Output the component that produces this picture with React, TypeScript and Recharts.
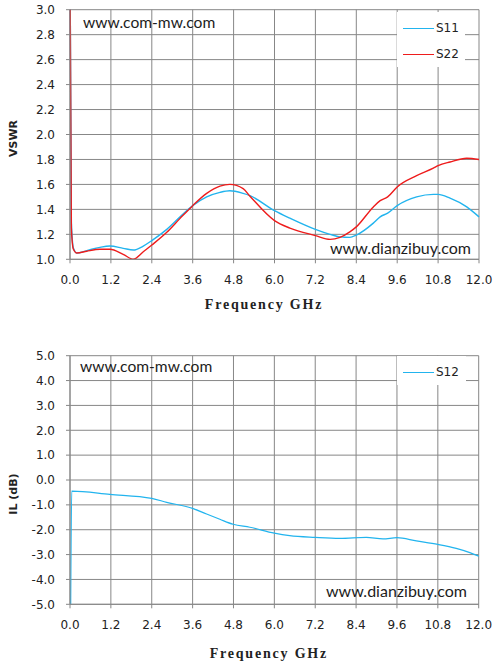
import { LineChart, Line, XAxis, YAxis, CartesianGrid, Legend, Label } from 'recharts';

// Frequency sweep (GHz)
const freqGHz = [
  0.0, 0.04, 0.1, 0.2, 0.49, 0.88, 1.17, 1.56, 1.86, 2.15, 2.4, 2.84, 3.23, 3.6,
  4.01, 4.4, 4.69, 5.08, 5.28, 6.0, 6.45, 7.2, 7.63, 7.92, 8.21, 8.4, 8.9, 9.1,
  9.32, 9.6, 10.17, 10.66, 10.8, 11.15, 11.64, 12.0,
];
const s11Vswr = [
  3.4, 1.3, 1.09, 1.05, 1.07, 1.096, 1.106, 1.088, 1.074, 1.106, 1.15, 1.24, 1.34, 1.43,
  1.5, 1.536, 1.549, 1.528, 1.51, 1.39, 1.33, 1.24, 1.2, 1.18, 1.176, 1.194, 1.29, 1.34,
  1.37, 1.43, 1.5, 1.52, 1.52, 1.49, 1.42, 1.34,
];
const s22Vswr = [
  3.4, 1.25, 1.08, 1.05, 1.065, 1.08, 1.08, 1.04, 1.0, 1.06, 1.114, 1.216, 1.328, 1.43,
  1.528, 1.586, 1.6, 1.566, 1.506, 1.31, 1.25, 1.19, 1.16, 1.176, 1.22, 1.26, 1.42, 1.47,
  1.5, 1.58, 1.67, 1.73, 1.75, 1.78, 1.81, 1.8,
];

// Insertion loss sweep
const freqIL = [
  0.02, 0.05, 1.17, 2.4, 2.84, 3.6, 4.01, 4.4, 4.79, 5.28, 6.0, 6.45, 7.2, 7.92,
  8.7, 9.19, 9.6, 10.17, 10.8, 11.34, 11.74, 12.0,
];
const s12Loss = [
  -5.0, -0.45, -0.58, -0.74, -0.9, -1.14, -1.37, -1.58, -1.78, -1.9, -2.14, -2.24, -2.31, -2.35,
  -2.31, -2.37, -2.32, -2.45, -2.59, -2.75, -2.92, -3.06,
];

const freqTicks = [0.0, 1.2, 2.4, 3.6, 4.8, 6.0, 7.2, 8.4, 9.6, 10.8, 12.0];
const vswrTicks = [1.0, 1.2, 1.4, 1.6, 1.8, 2.0, 2.2, 2.4, 2.6, 2.8, 3.0];
const ilTicks = [-5, -4, -3, -2, -1, 0, 1, 2, 3, 4, 5];

const vswrData = freqGHz.map((f, i) => ({ f, S11: s11Vswr[i], S22: s22Vswr[i] }));
const ilData = freqIL.map((f, i) => ({ f, S12: s12Loss[i] }));

const GRID = '#878787';
const BLUE = '#22b4ee';
const RED = '#ee1c1c';
const tickStyle = { fill: '#222', fontSize: 12, fontFamily: 'DejaVu Sans' };
const fmt = (v: number) => v.toFixed(1);

function BoxLegend({ payload }: any) {
  return (
    <div style={{ background: '#fff', padding: '3px 0 0 6px', fontFamily: 'DejaVu Sans', fontSize: 12, color: '#222' }}>
      {(payload || []).map((p: any) => (
        <div key={p.value} style={{ display: 'flex', alignItems: 'center', height: 26 }}>
          <span style={{ width: 31, borderTop: `1.5px solid ${p.color}`, marginRight: 2 }} />
          <span>{p.value}</span>
        </div>
      ))}
    </div>
  );
}

const yTitle = (text: string, shift: number) => (props: any) => {
  const vb = props.viewBox;
  const cy = vb.y + vb.height / 2 + shift;
  return (
    <text
      x={13}
      y={cy}
      transform={`rotate(-90, 13, ${cy})`}
      textAnchor="middle"
      dominantBaseline="central"
      style={{ fontFamily: 'DejaVu Sans', fontWeight: 'bold', fontSize: 11, fill: '#222' }}
    >
      {text}
    </text>
  );
};

const xTitle = (dx: number, baseline: number) => (props: any) => {
  const vb = props.viewBox;
  return (
    <text
      x={vb.x + vb.width / 2 + dx}
      y={vb.y + baseline}
      textAnchor="middle"
      style={{
        fontFamily: '"Liberation Serif", serif', fontWeight: 'bold', fontSize: 14,
        letterSpacing: 1.8, fill: '#222',
      }}
    >
      Frequency GHz
    </text>
  );
};

const mark = (left: number, top: number, size: number, text: string) => (
  <div
    style={{
      position: 'absolute', left, top, fontFamily: 'Lato', fontSize: size, lineHeight: 1,
      color: '#1c1c1c', whiteSpace: 'nowrap', pointerEvents: 'none',
    }}
  >
    {text}
  </div>
);

export default function App() {
  return (
    <div style={{ position: 'absolute', left: 0, top: 0, width: 497, height: 669, background: '#fff' }}>
      <div style={{ position: 'relative', width: 497, height: 330 }}>
        <LineChart width={497} height={330} data={vswrData} margin={{ top: 9.7, right: 18, bottom: 10.7, left: 0 }}>
          <CartesianGrid stroke={GRID} />
          <XAxis
            type="number" dataKey="f" domain={[0, 12]} ticks={freqTicks} tickFormatter={fmt}
            tick={tickStyle} stroke={GRID} tickSize={4} tickMargin={12} height={60}
          >
            <Label content={xTitle(-10.5, 50)} />
          </XAxis>
          <YAxis
            domain={[1, 3]} ticks={vswrTicks} tickFormatter={fmt} allowDataOverflow
            tick={tickStyle} stroke={GRID} tickSize={4} tickMargin={11} width={70}
          >
            <Label content={yTitle('VSWR', 4)} />
          </YAxis>
          <Legend
            layout="vertical" align="center" verticalAlign="middle"
            wrapperStyle={{ position: 'absolute', left: 397, top: 12, width: 68 }}
            content={<BoxLegend />}
          />
          <Line type="monotone" dataKey="S11" stroke={BLUE} strokeWidth={1.4} dot={false} isAnimationActive={false} />
          <Line type="monotone" dataKey="S22" stroke={RED} strokeWidth={1.4} dot={false} isAnimationActive={false} />
        </LineChart>
        {mark(83, 14.5, 15.6, 'www.com-mw.com')}
        {mark(330, 240, 16, 'www.dianzibuy.com')}
      </div>
      <div style={{ position: 'relative', width: 497, height: 339 }}>
        <LineChart width={497} height={339} data={ilData} margin={{ top: 25.7, right: 18.3, bottom: 4.7, left: 0 }}>
          <CartesianGrid stroke={GRID} />
          <XAxis
            type="number" dataKey="f" domain={[0, 12]} ticks={freqTicks} tickFormatter={fmt}
            tick={tickStyle} stroke={GRID} tickSize={4} tickMargin={12} height={60}
          >
            <Label content={xTitle(-5.5, 54)} />
          </XAxis>
          <YAxis
            domain={[-5, 5]} ticks={ilTicks} tickFormatter={fmt} allowDataOverflow
            tick={tickStyle} stroke={GRID} tickSize={4} tickMargin={11} width={70}
          >
            <Label content={yTitle('IL (dB)', 14)} />
          </YAxis>
          <Legend
            layout="vertical" align="center" verticalAlign="middle"
            wrapperStyle={{ position: 'absolute', left: 397, top: 26, width: 69 }}
            content={<BoxLegend />}
          />
          <Line type="monotone" dataKey="S12" stroke={BLUE} strokeWidth={1.2} dot={false} isAnimationActive={false} />
        </LineChart>
        {mark(80, 29, 15.6, 'www.com-mw.com')}
        {mark(326, 253, 16, 'www.dianzibuy.com')}
      </div>
    </div>
  );
}
